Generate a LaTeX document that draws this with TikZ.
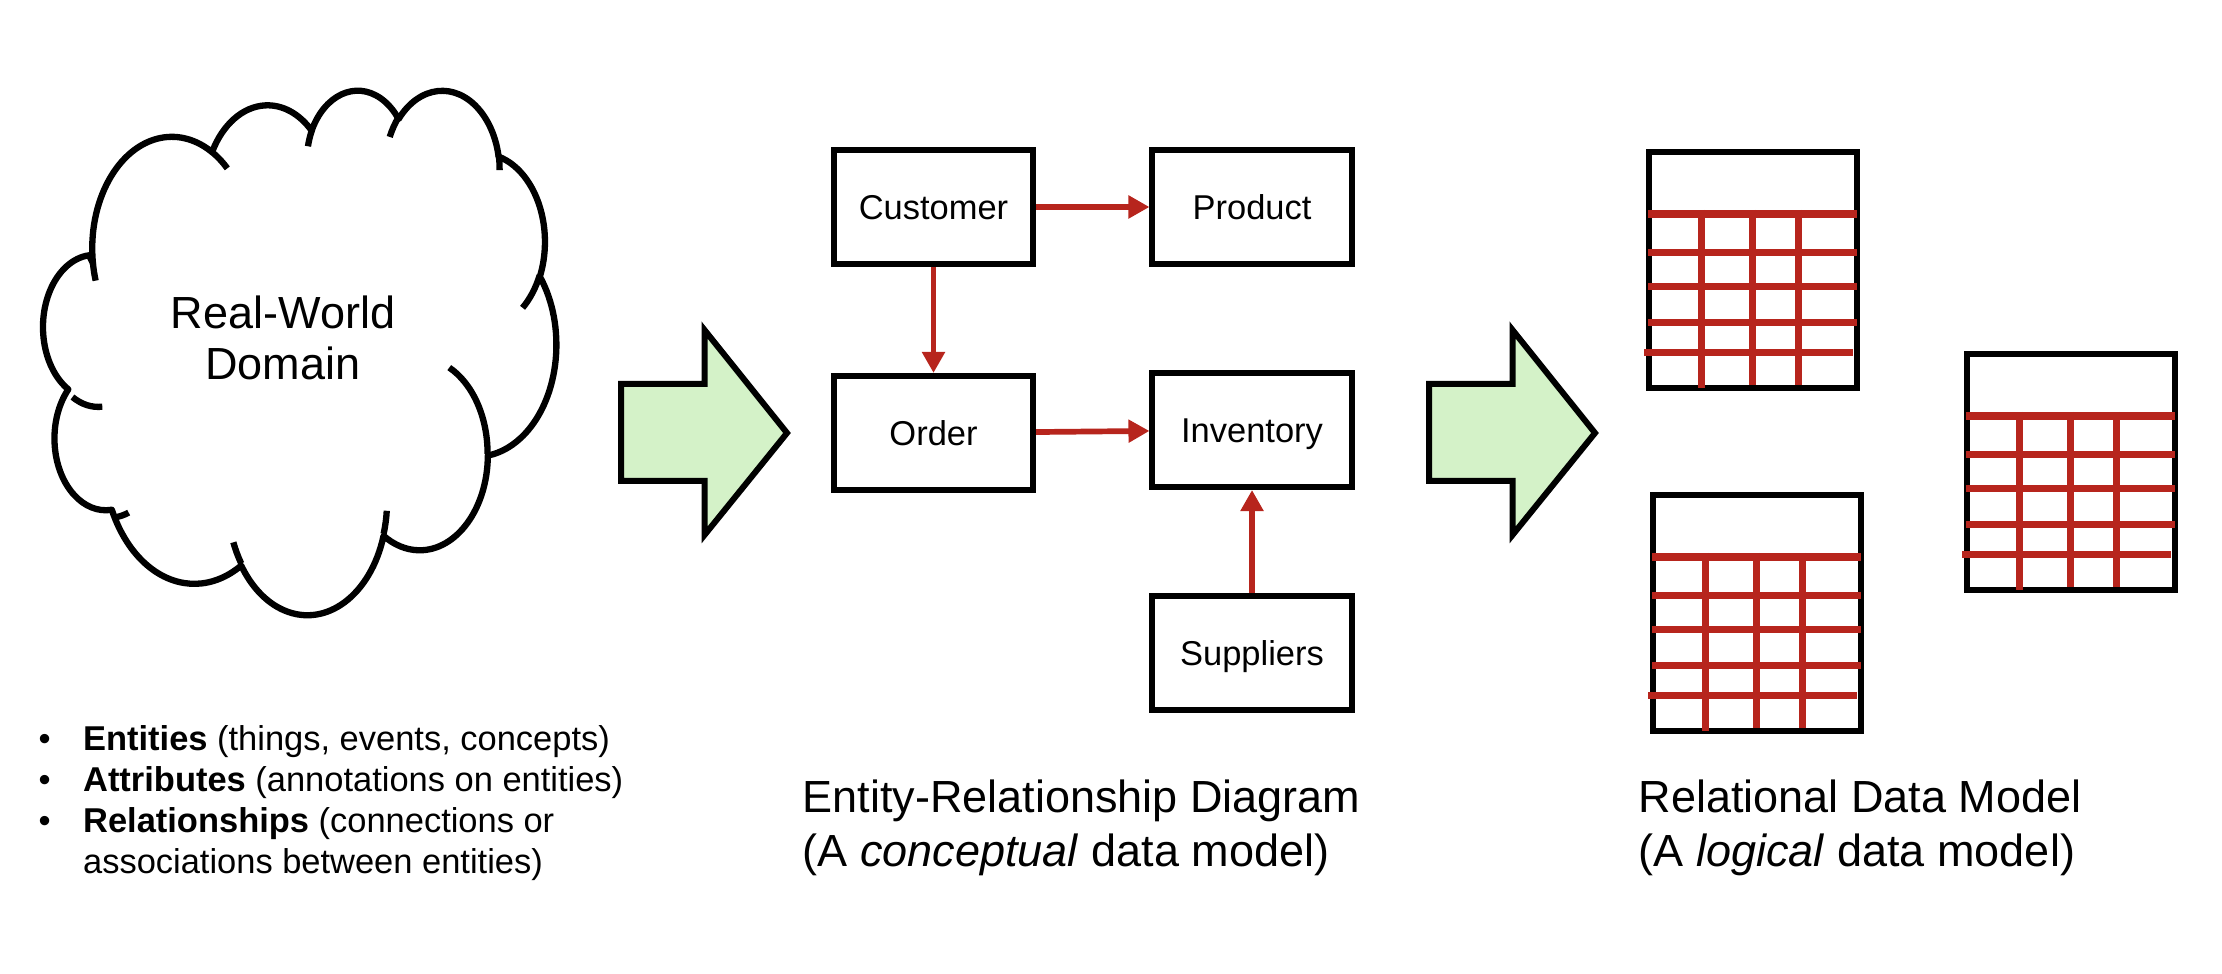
\documentclass[tikz,border=0pt]{standalone}
\usepackage{fontspec}
\setmainfont{Liberation Sans}
\usetikzlibrary{arrows.meta}
\definecolor{erred}{RGB}{183,37,29}
\definecolor{flowgreen}{RGB}{212,242,200}
\newcommand{\cloudarc}[4]{arc[start angle={ooang(#3,#1,#2)},
  end angle={ooang(#3+#4,#1,#2)}, x radius=#1, y radius=#2]}

\begin{document}
\begin{tikzpicture}[x=0.01cm, y=-0.01cm,
    declare function={ooang(\ang,\rw,\rh)=\ang+atan((\rw-\rh)*sin(\ang)*cos(\ang)/(\rh*cos(\ang)^2+\rw*sin(\ang)^2));},
    entity/.style={
        line width=0.06cm, draw=black, rectangle,
        minimum width=1.99cm, minimum height=1.14cm, inner sep=0pt,
        text height=0.248cm, text depth=0cm,
        font=\fontsize{9.8}{11.8}\selectfont},
    relation/.style={
        line width=0.057cm, draw=erred,
        -{Triangle[length=0.21cm,width=0.22cm]}},
    cloudline/.style={line width=0.063cm, line join=round},
    blockarrow/.style={
        line width=0.06cm, draw=black, fill=flowgreen, line join=miter},
    grid line/.style={line width=0.07cm, draw=erred},
    caption/.style={anchor=base west, inner sep=0pt,
        font=\fontsize{12.8}{15.6}\selectfont}]
  \useasboundingbox (0,0) rectangle (2222,974);
  %cloud
  \begin{scope}[shift={(47,89)}, x=0.011782cm, y=-0.012130cm]
    \draw[cloudline] (39.00,143.70)
      \cloudarc{67.53}{91.90}{-190.4875}{123.7805}
      \cloudarc{53.33}{72.67}{-144.1024}{89.9452}
      \cloudarc{43.65}{59.45}{-145.8079}{99.7230}
      \cloudarc{48.57}{65.95}{-130.9861}{117.2417}
      \cloudarc{53.33}{72.73}{-78.7089}{109.0269}
      \cloudarc{67.75}{92.20}{-46.2673}{130.2690}
      \cloudarc{57.85}{78.67}{0.6250}{114.0333}
      \cloudarc{67.52}{92.15}{22.4516}{115.1726}
      \cloudarc{77.20}{105.43}{66.2426}{81.3777}
      \cloudarc{43.60}{59.18}{-274.9421}{146.7356}
      \cloudarc{43.45}{59.45}{-246.8285}{152.5189} -- cycle;
    %inner curls
    \draw[cloudline]
      (46.93,261.77) \cloudarc{43.45}{59.45}{86.7420}{26.4295}
      (69.28,348.99) \cloudarc{43.60}{59.18}{73.6105}{11.4475}
      (164.78,390.90) \cloudarc{67.52}{92.15}{137.6242}{14.0811}
      (288.27,347.51) \cloudarc{67.52}{92.15}{6.4533}{15.9984}
      (341.29,229.54) \cloudarc{57.85}{78.67}{-70.2924}{70.9174}
      (417.98,153.54) \cloudarc{53.33}{72.73}{30.3180}{27.7515}
      (383.24,54.26) \cloudarc{48.57}{65.95}{-13.7443}{14.8589}
      (290.78,39.52) \cloudarc{48.57}{65.95}{-149.1815}{18.1954}
      (221.41,47.20) \cloudarc{43.65}{59.45}{-163.4943}{17.6864}
      (140.00,51.92) \cloudarc{67.53}{91.90}{-66.7070}{12.3194}
      (41.27,157.89) \cloudarc{67.53}{91.90}{157.6544}{11.8582};
  \end{scope}
  \node (domain) [align=center, font=\fontsize{12.8}{14.6}\selectfont]
    at (283,338) {Real-World\\Domain};
  %notes
  \node (notes) [anchor=north west, inner sep=0pt,
    font=\fontsize{9.8}{11.67}\selectfont] at (38,721.3) {%
    \begin{tabular}{@{}p{0.444cm}@{}l@{}}
      • & \textbf{Entities} (things, events, concepts)\\
      • & \textbf{Attributes} (annotations on entities)\\
      • & \textbf{Relationships} (connections or\\
        & associations between entities)
    \end{tabular}};
  %block arrows
  \foreach \dx in {0,808}
    \draw[blockarrow, shift={(\dx,0)}] (621,384) -- (704.5,384) -- (704.5,330)
      -- (787,433) -- (704.5,535) -- (704.5,481) -- (621,481) -- cycle;
  %entities
  \node (cust) [entity] at (933.5,207) {Customer};
  \node (prod) [entity] at (1252,207) {Product};
  \node (ord) [entity] at (933.5,433) {Order};
  \node (inv) [entity] at (1252,430) {Inventory};
  \node (sup) [entity] at (1252,653) {Suppliers};
  %relations
  \draw[relation] (cust) -- (prod);
  \draw[relation] (cust) -- (ord);
  \draw[relation] (ord) -- (inv);
  \draw[relation] (sup) -- (inv);
  %tables
  \foreach \tx/\ty in {1646/149,1650/492,1964/351}{
    \begin{scope}[shift={(\tx,\ty)}]
      \draw[line width=0.06cm] (3,3) rectangle (211,239.4);
      \draw[grid line, line width=0.074cm] (2,65) -- (211,65);
      \foreach \gy in {104,138,174}
        \draw[grid line] (2,\gy) -- (211,\gy);
      \draw[grid line] (-2,204) -- (207,204);
      \draw[grid line] (55,61) -- (55,239.5);
      \foreach \gx in {106,152}
        \draw[grid line] (\gx,61) -- (\gx,236);
    \end{scope}
  }
  %captions
  \node (erhead) [caption] at (802,813) {Entity-Relationship Diagram};
  \node (ersub) [caption] at (802,867) {(A \textit{conceptual} data model)};
  \node (relhead) [caption] at (1638,813) {Relational Data Model};
  \node (relsub) [caption] at (1638,867) {(A \textit{logical} data model)};
\end{tikzpicture}
\end{document}
